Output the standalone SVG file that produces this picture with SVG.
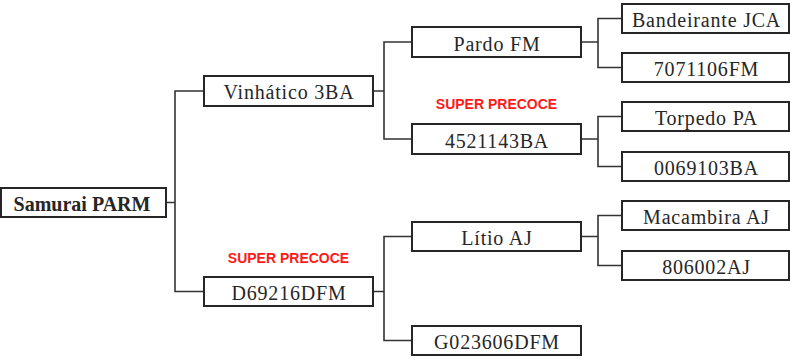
<svg xmlns="http://www.w3.org/2000/svg" width="790" height="361" viewBox="0 0 790 361">
<style>
.box{fill:#fff;stroke:#262626;stroke-width:2}
.t{font-family:"Liberation Serif","DejaVu Serif",serif;font-size:20px;letter-spacing:0.8px;fill:#262626;text-anchor:middle}
.tb{font-weight:bold;letter-spacing:0}
.w{stroke:#333;stroke-width:1.6;fill:none}
.red{font-family:"Liberation Sans",Arial,sans-serif;font-weight:bold;font-size:14px;fill:#ff1a1a;text-anchor:middle}
</style>
<rect width="790" height="361" fill="#fff"/>
<g id="connectors">
<path class="w" d="M166,202.5 H175 M204,91 H175 V291.5 H204"/>
<path class="w" d="M373,91 H384 M412,42 H384 V139 H412"/>
<path class="w" d="M373,291.5 H384 M412,236.5 H384 V340.5 H412"/>
<path class="w" d="M581,42 H598 M622,18.5 H598 V67.5 H622"/>
<path class="w" d="M581,139 H598 M622,116.5 H598 V166.5 H622"/>
<path class="w" d="M581,236.5 H598 M622,215.5 H598 V265.5 H622"/>
</g>
<g id="samurai"><rect class="box" x="1" y="188" width="165" height="29"/><text class="t tb" x="82" y="210.5">Samurai PARM</text></g>
<g id="vinhatico"><rect class="box" x="204" y="76" width="169" height="30"/><text class="t" x="289" y="99">Vinhático 3BA</text></g>
<g id="d69216dfm"><rect class="box" x="204" y="277" width="169" height="29"/><text class="t" x="289" y="299.5">D69216DFM</text></g>
<g id="pardo"><rect class="box" x="412" y="27" width="169" height="30"/><text class="t" x="497" y="50.5">Pardo FM</text></g>
<g id="n4521143ba"><rect class="box" x="412" y="124" width="169" height="30"/><text class="t" x="497" y="147.5">4521143BA</text></g>
<g id="litio"><rect class="box" x="412" y="222" width="169" height="29"/><text class="t" x="497" y="244.5">Lítio AJ</text></g>
<g id="g023606dfm"><rect class="box" x="412" y="326" width="169" height="29"/><text class="t" x="497" y="348.5">G023606DFM</text></g>
<g id="bandeirante"><rect class="box" x="622" y="4" width="167" height="29"/><text class="t" x="706.5" y="26.5">Bandeirante JCA</text></g>
<g id="n7071106fm"><rect class="box" x="622" y="53" width="167" height="29"/><text class="t" x="706.5" y="75.5">7071106FM</text></g>
<g id="torpedo"><rect class="box" x="622" y="102" width="167" height="29"/><text class="t" x="706.5" y="124.5">Torpedo PA</text></g>
<g id="n0069103ba"><rect class="box" x="622" y="152" width="167" height="29"/><text class="t" x="706.5" y="174.5">0069103BA</text></g>
<g id="macambira"><rect class="box" x="622" y="201" width="167" height="29"/><text class="t" x="706.5" y="223.5">Macambira AJ</text></g>
<g id="n806002aj"><rect class="box" x="622" y="251" width="167" height="29"/><text class="t" x="706.5" y="273.5">806002AJ</text></g>
<g id="labels">
<text class="red" x="496.5" y="109">SUPER PRECOCE</text>
<text class="red" x="288.5" y="263">SUPER PRECOCE</text>
</g>
</svg>
